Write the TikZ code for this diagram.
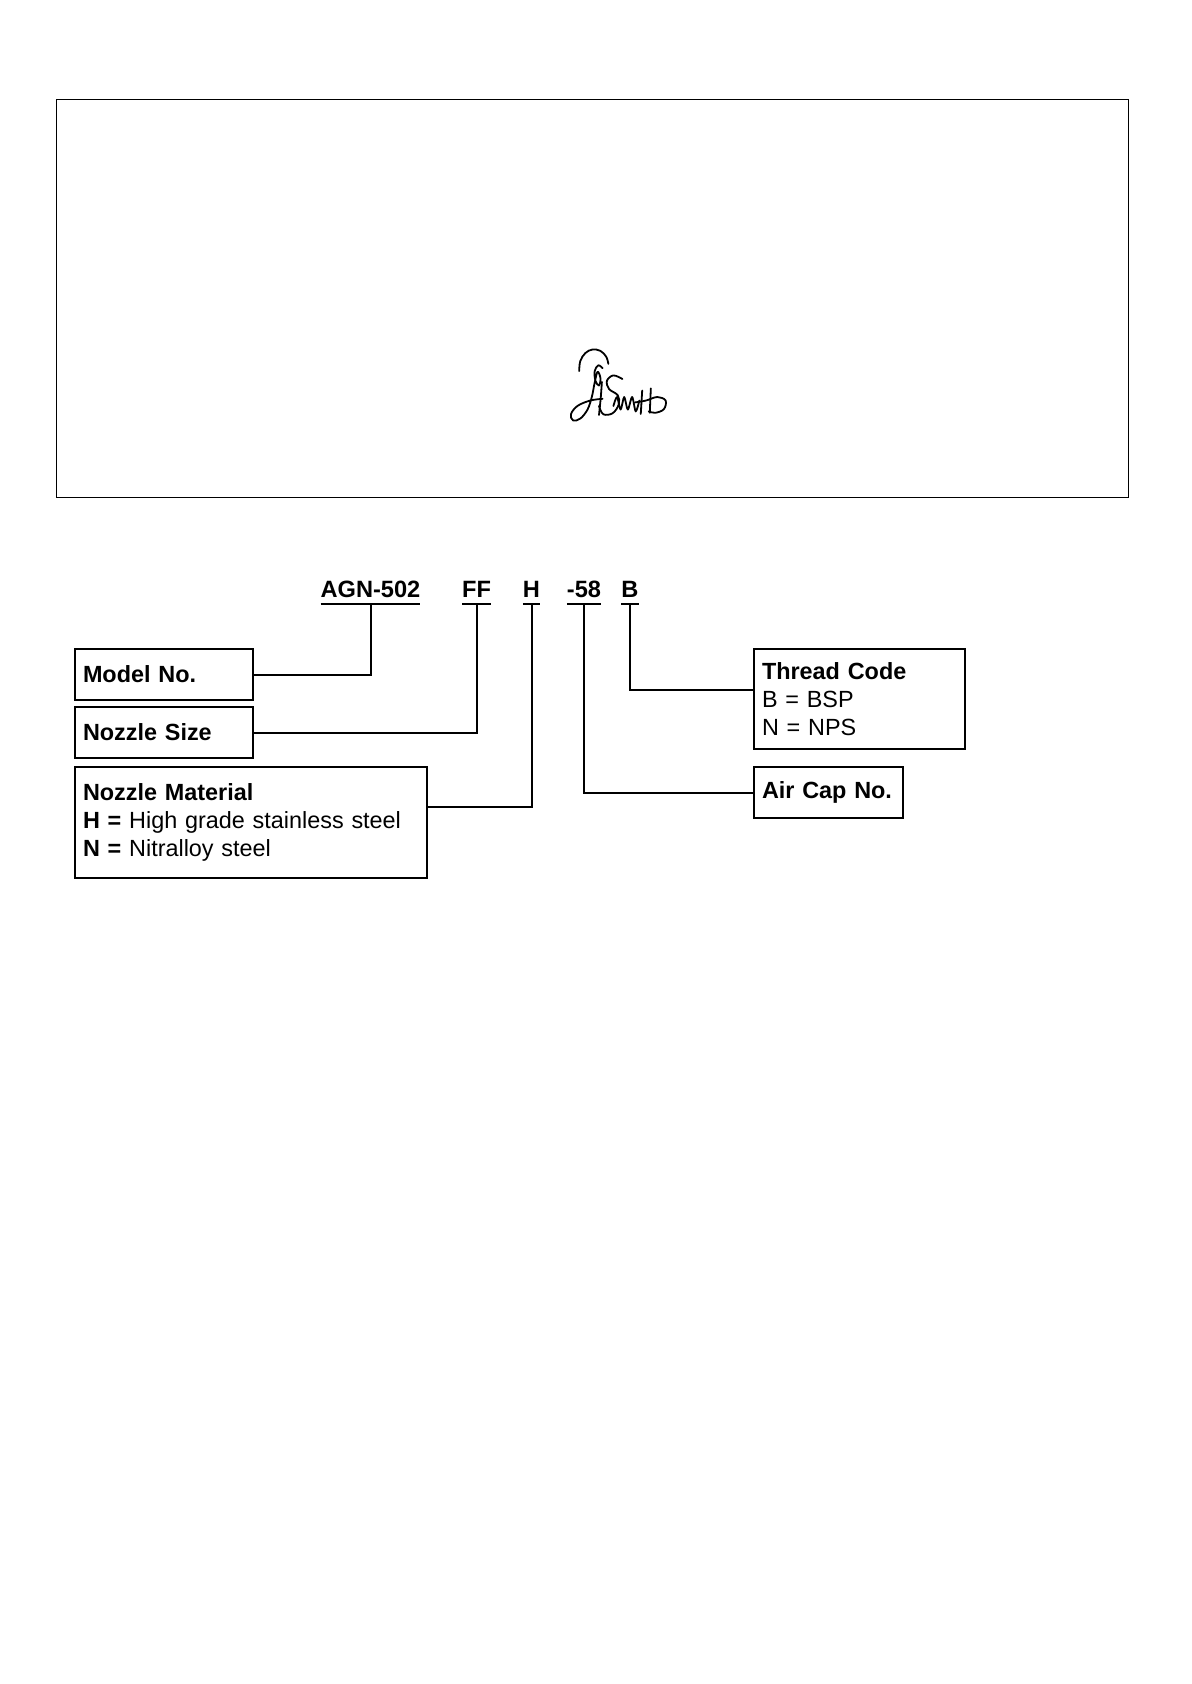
\documentclass[tikz,border=0pt]{standalone}
\usepackage{fontspec}
\setmainfont{Liberation Sans}
\usetikzlibrary{calc}

\begin{document}
\begin{tikzpicture}[x=0.5pt, y=-0.5pt, line cap=rect,
  every node/.style={font=\fontsize{11.7}{14}\selectfont},
  codeitem/.style={font=\fontsize{11.8}{14}\selectfont\bfseries, inner xsep=0pt, inner ysep=3.5pt, outer sep=0pt, text depth=0pt, anchor=base},
  codebox/.style={draw, line width=1pt, anchor=north west, align=left, inner xsep=4pt, inner ysep=0pt},
  sig/.style={line width=0.9pt, line cap=round, line join=round}]
  \useasboundingbox (0,0) rectangle (1191,1684);
  % frame round the signature
  \draw[line width=0.5pt] (56,100) rectangle (1128,497);
  \begin{scope}[shift={(563,343)}, scale=0.36]
    \draw[sig] plot[smooth, tension=0.6] coordinates {(45,78) (48,50) (62,28) (82,18) (104,22) (120,38) (126,58)};
    \draw[sig] plot[smooth, tension=0.6] coordinates {(110,70) (98,62) (88,78) (90,105) (100,118) (104,98) (96,80)
      (88,110) (80,150) (68,185) (48,210) (28,215) (22,198) (40,175) (75,160) (110,155)};
    \draw[sig] plot[smooth, tension=0.6] coordinates {(108,108) (105,150) (100,200)};
    \draw[sig] plot[smooth, tension=0.6] coordinates {(165,100) (140,90) (122,105) (128,128) (152,145) (155,170)
      (138,195) (112,198) (100,175)};
    \draw[sig] plot[smooth, tension=0.5] coordinates {(140,175) (150,150) (160,185) (170,150) (180,185) (192,150) (202,190) (212,160)};
    \draw[sig] (220,132) -- (216,197);
    \draw[sig] (244,126) -- (241,194);
    \draw[sig] plot[smooth, tension=0.6] coordinates {(200,165) (230,160) (262,150) (285,160) (280,184) (256,194) (238,190)};
  \end{scope}
  % code
  \node[codeitem] (agn) at (370.5,597) {AGN-502};
  \node[codeitem] (ff) at (476.5,597) {FF};
  \node[codeitem] (h) at (531.5,597) {H};
  \node[codeitem] (n58) at (584,597) {-58};
  \node[codeitem] (b) at (630,597) {B};
  \foreach \c in {agn,ff,h,n58,b}
    \draw[line width=1.1pt, line cap=butt] (\c.south west) -- (\c.south east);
  % boxes
  \node[codebox, text width=81pt, minimum height=25.5pt] (model) at (74,648) {\textbf{Model No.}};
  \node[codebox, text width=81pt, minimum height=25.5pt] (size) at (74,706) {\textbf{Nozzle Size}};
  \node[codebox, text width=168pt, minimum height=55.5pt] (mat) at (74,766) {\textbf{Nozzle Material}\\\textbf{H =} High grade stainless steel\\\textbf{N =} Nitralloy steel};
  \node[codebox, text width=97.5pt, minimum height=50pt] (thread) at (753,648) {\textbf{Thread Code}\\B = BSP\\N = NPS};
  \node[codebox, text width=66.5pt, minimum height=25.5pt] (cap) at (753,766) {\textbf{Air Cap No.}};
  % connectors
  \draw[line width=1pt] (model.east) -| (agn.south);
  \draw[line width=1pt] (size.east) -| (ff.south);
  \draw[line width=1pt] ($(mat.north east)!0.36!(mat.south east)$) -| (h.south);
  \draw[line width=1pt] ($(thread.north west)!0.41!(thread.south west)$) -| (b.south);
  \draw[line width=1pt] (cap.west) -| (n58.south);
\end{tikzpicture}
\end{document}
